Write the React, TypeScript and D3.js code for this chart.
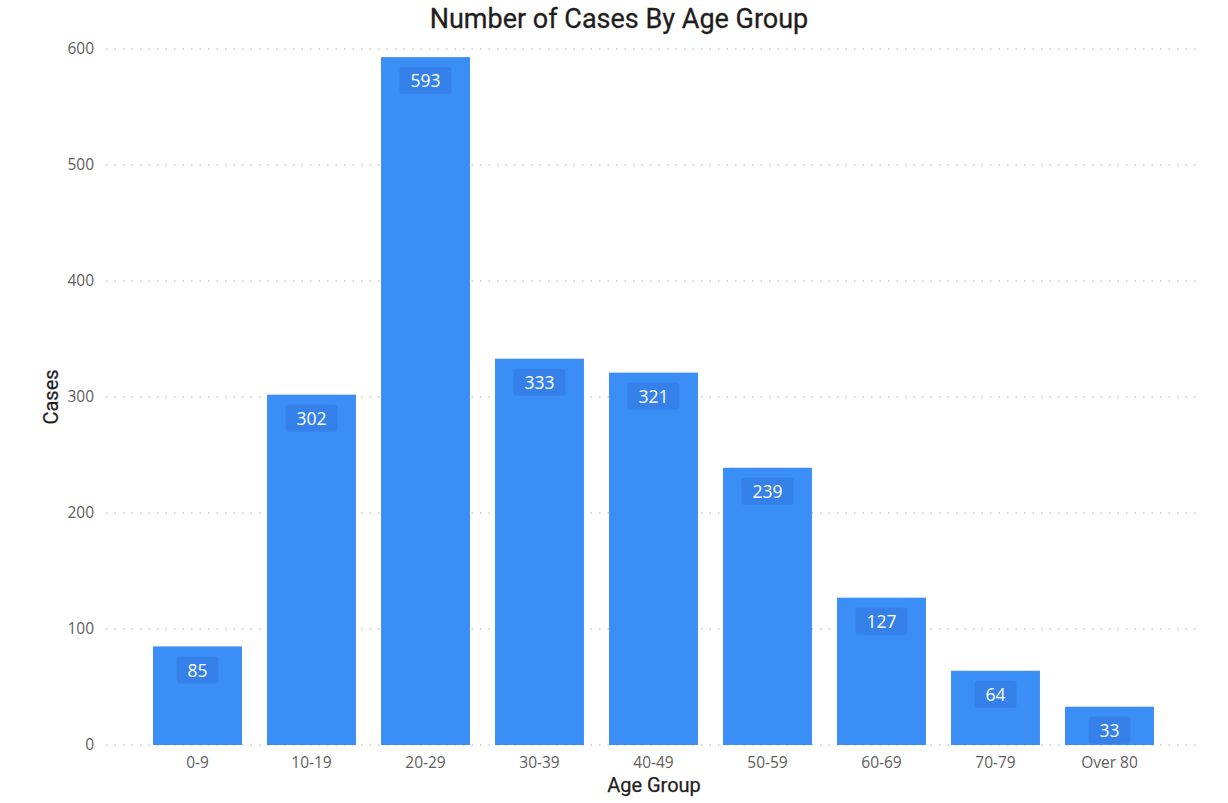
import React from 'react';
import * as d3 from 'd3';

const ageGroups = ['0-9', '10-19', '20-29', '30-39', '40-49', '50-59', '60-69', '70-79', 'Over 80'];
const cases = [85, 302, 593, 333, 321, 239, 127, 64, 33];
const yTicks = [0, 100, 200, 300, 400, 500, 600];

const W = 1228;
const H = 803;
const barColor = '#3a8ef6';
const labelBg = '#3581e9';
const uiFont = '"Open Sans", "Noto Sans", sans-serif';
const titleFont = 'Roboto, "DejaVu Sans", sans-serif';

const App: React.FC = () => {
    // scales tuned to the reference layout
    const x = d3.scaleBand<string>()
        .domain(ageGroups)
        .range([140.5, 1166.5])
        .paddingInner(0.22)
        .paddingOuter(0.11);
    const y = d3.scaleLinear().domain([0, 600]).range([745, 49]);

    return (
        <svg width={W} height={H} style={{ position: 'absolute', left: 0, top: 0, background: '#fff' }}>
            <text x={619} y={28} textAnchor="middle" fontFamily={titleFont} fontSize={27} fill="#1f1e1d" stroke="#1f1e1d" strokeWidth={0.3}>
                Number of Cases By Age Group
            </text>

            {/* gridlines */}
            {yTicks.map(t => (
                <g key={t}>
                    <line x1={106} x2={1200} y1={y(t)} y2={y(t)} stroke="#c8c8c8" strokeWidth={1.5} strokeDasharray="1.5,7" />
                    <text x={94} y={y(t)} dy="0.35em" textAnchor="end" fontFamily={uiFont} fontSize={15.5} fill="#605e5c">
                        {t}
                    </text>
                </g>
            ))}

            {/* bars */}
            {ageGroups.map((g, i) => {
                const v = cases[i];
                const bx = x(g) as number;
                const bw = x.bandwidth();
                const top = y(v);
                const label = String(v);
                const boxW = label.length * 10 + 22;
                const cx = bx + bw / 2;
                return (
                    <g key={g}>
                        <rect x={bx} y={top} width={bw} height={y(0) - top} fill={barColor} />
                        <rect x={cx - boxW / 2} y={top + 10} width={boxW} height={27} rx={3} fill={labelBg} />
                        <text x={cx} y={top + 24} dy="0.35em" textAnchor="middle" fontFamily={uiFont} fontSize={17.5} fill="#fff">
                            {label}
                        </text>
                        <text x={cx} y={763} dy="0.35em" textAnchor="middle" fontFamily={uiFont} fontSize={15.5} fill="#605e5c">
                            {g}
                        </text>
                    </g>
                );
            })}

            <text x={654} y={785} dy="0.35em" textAnchor="middle" fontFamily={titleFont} fontSize={20} fill="#1f1e1d" stroke="#1f1e1d" strokeWidth={0.25}>
                Age Group
            </text>
            <text transform="translate(51,397) rotate(-90)" dy="0.35em" textAnchor="middle" fontFamily={titleFont} fontSize={20} fill="#1f1e1d" stroke="#1f1e1d" strokeWidth={0.25}>
                Cases
            </text>
        </svg>
    );
};

export default App;
